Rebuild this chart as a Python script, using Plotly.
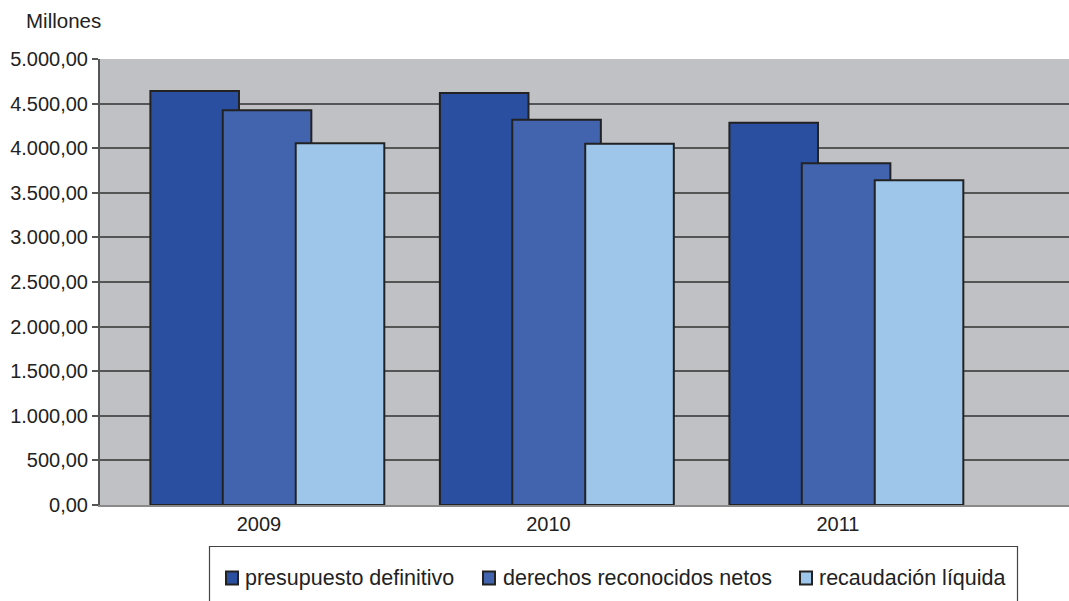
import plotly.graph_objects as go

# Datos (millones)
years = ["2009", "2010", "2011"]
presupuesto_definitivo = [4640, 4620, 4285]
derechos_reconocidos = [4425, 4320, 3830]
recaudacion_liquida = [4055, 4050, 3640]

series_names = ["presupuesto definitivo", "derechos reconocidos netos", "recaudación líquida"]
series_values = [presupuesto_definitivo, derechos_reconocidos, recaudacion_liquida]
series_colors = ["#2b4fa0", "#4264ae", "#9ec6ea"]
bar_offsets = [-0.375, -0.125, 0.127]

W, H = 1069, 601
L, R, T, B = 100, 0, 59, 96
plot_w = W - L - R
plot_h = H - T - B


def px_x(px):
    return (px - L) / plot_w


def px_y(py):
    return (H - B - py) / plot_h


font_family = "Liberation Sans, Arial, sans-serif"
text_color = "#222222"

fig = go.Figure()
for name, vals, color, off in zip(series_names, series_values, series_colors, bar_offsets):
    fig.add_trace(go.Bar(
        name=name,
        x=years,
        y=vals,
        offset=off,
        width=0.306,
        marker=dict(color=color, line=dict(color="#222222", width=2)),
        showlegend=False,
    ))

# Leyenda dibujada a mano dentro de un recuadro bajo el gráfico
legend_square_x = [225, 482, 799]
legend_text_x = [244, 502, 818]
legend_cy = 578
shapes = [
    dict(
        type="rect", xref="paper", yref="paper",
        x0=px_x(209.5), x1=px_x(1017.5),
        y0=px_y(546.5), y1=px_y(640),
        line=dict(color="#444444", width=1.2),
        fillcolor="rgba(0,0,0,0)",
    )
]
annotations = [
    dict(
        text="Millones", xref="paper", yref="paper",
        x=px_x(24), y=px_y(20),
        xanchor="left", yanchor="middle", showarrow=False,
        font=dict(size=20.5, color=text_color),
    )
]
for name, color, sx, tx in zip(series_names, series_colors, legend_square_x, legend_text_x):
    shapes.append(dict(
        type="rect", xref="paper", yref="paper",
        x0=px_x(sx + 1), x1=px_x(sx + 13),
        y0=px_y(legend_cy - 6.5), y1=px_y(legend_cy + 6.5),
        line=dict(color="#222222", width=2),
        fillcolor=color,
    ))
    annotations.append(dict(
        text=name, xref="paper", yref="paper",
        x=px_x(tx - 1), y=px_y(legend_cy),
        xanchor="left", yanchor="middle", showarrow=False,
        font=dict(size=21.5, color=text_color),
    ))

fig.update_layout(
    width=W,
    height=H,
    margin=dict(l=L, r=R, t=T, b=B, pad=0, autoexpand=False),
    paper_bgcolor="white",
    plot_bgcolor="#c0c1c5",
    barmode="overlay",
    separators=",.",
    showlegend=False,
    font=dict(family=font_family, size=20, color=text_color),
    xaxis=dict(
        type="category",
        range=[-0.549, 2.798],
        showgrid=False,
        showline=True,
        linecolor="#8a8a8a",
        linewidth=2,
        ticks="",
        tickfont=dict(size=20, color=text_color),
        fixedrange=True,
    ),
    yaxis=dict(
        range=[0, 5000],
        tickvals=list(range(0, 5001, 500)),
        tickformat=",.2f",
        showgrid=True,
        gridcolor="#555555",
        gridwidth=1.5,
        zeroline=False,
        showline=True,
        linecolor="#555555",
        linewidth=2,
        ticks="outside",
        ticklen=6,
        tickcolor="#555555",
        tickwidth=1.5,
        tickfont=dict(size=20, color=text_color),
        fixedrange=True,
    ),
    shapes=shapes,
    annotations=annotations,
)

fig.write_html("out.html")
